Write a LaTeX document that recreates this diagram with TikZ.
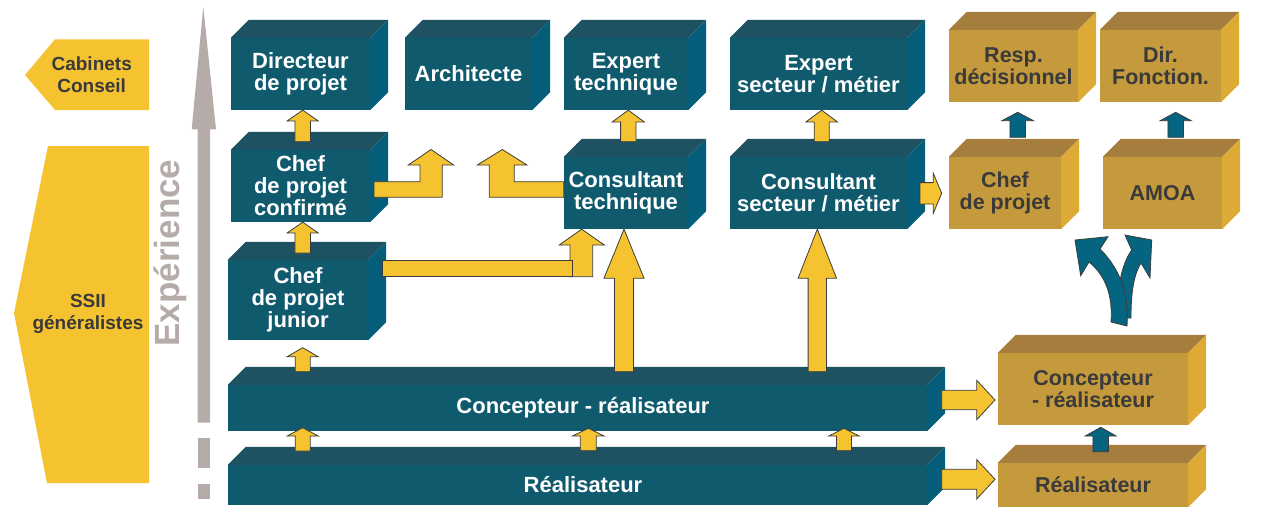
\documentclass[tikz,border=0pt]{standalone}
\usepackage{fontspec}
\setmainfont{Liberation Sans}
\usetikzlibrary{calc}
\definecolor{tealF}{HTML}{105A6E}
\definecolor{tealT}{HTML}{1E5262}
\definecolor{tealS}{HTML}{045E7A}
\definecolor{tealA}{HTML}{05647F}
\definecolor{goldF}{HTML}{C49A3C}
\definecolor{goldT}{HTML}{A57D3D}
\definecolor{goldS}{HTML}{DDAA35}
\definecolor{gtext}{HTML}{3A3A3A}
\definecolor{yel}{HTML}{F5C330}
\definecolor{outl}{HTML}{3C3C3C}
\definecolor{grayA}{HTML}{B5ABA8}
\tikzset{
  tbox/.style={fill=tealF, text=white, inner sep=0pt, align=center,
    font=\fontsize{22}{22}\selectfont\bfseries},
  gbox/.style={fill=goldF, text=gtext, inner sep=0pt, align=center,
    font=\fontsize{21.5}{22}\selectfont\bfseries},
  ltext/.style={text=gtext, inner sep=0pt, align=center,
    font=\fontsize{19}{22}\selectfont\bfseries},
  yarr/.style={fill=yel, draw=outl, line width=0.8pt},
  tarr/.style={fill=tealA, draw=outl, line width=0.8pt},
}
% 3D faces of a box: #1 node, #2 top colour, #3 side colour
\newcommand\faces[3]{%
  \fill[#2] (#1.north west) -- ++(18,-18) -- ([shift={(18,-18)}]#1.north east) -- (#1.north east) -- cycle;
  \fill[#3] (#1.north east) -- ++(18,-18) -- ([shift={(18,-18)}]#1.south east) -- (#1.south east) -- cycle;}
% up block arrow: #1 style, #2 tip, #3 bottom, #4 head length, #5 head half width, #6 shaft half width
\newcommand\uarr[6]{%
  \filldraw[#1] let \p1=#2, \p2=#3 in (\x1,\y1) -- (\x1+#5pt,\y1-#4pt) -- (\x1+#6pt,\y1-#4pt)
    -- (\x1+#6pt,\y2) -- (\x1-#6pt,\y2) -- (\x1-#6pt,\y1-#4pt) -- (\x1-#5pt,\y1-#4pt) -- cycle;}
% right block arrow: #1 style, #2 tip, #3 start, #4 head length, #5 head half, #6 shaft half
\newcommand\rarr[6]{%
  \filldraw[#1] let \p1=#2, \p2=#3 in (\x1,\y1) -- (\x1-#4pt,\y1-#5pt) -- (\x1-#4pt,\y1-#6pt)
    -- (\x2,\y1-#6pt) -- (\x2,\y1+#6pt) -- (\x1-#4pt,\y1+#6pt) -- (\x1-#4pt,\y1+#5pt) -- cycle;}
\begin{document}
\begin{tikzpicture}[x=1pt,y=-1pt]
\useasboundingbox (0,0) rectangle (1270,507);

% left labels
\fill[yel] (25,75) -- (55,39.3) -- (149,39.3) -- (149,110) -- (55,110) -- cycle;
\node[ltext] (cab) at (91.7,75) {Cabinets\\Conseil};
\fill[yel] (48,146) -- (149,146) -- (149,483) -- (47,483) -- (14,313) -- cycle;
\node[ltext] (ssii) at (88,314) {SSII\\généralistes};

% experience axis
\fill[grayA] (203.3,6.7) -- (216,129.3) -- (210,129.3) -- (210,422.7) -- (197.7,422.7) -- (197.7,129.3) -- (191.7,129.3) -- cycle;
\fill[grayA] (197.7,437.7) rectangle (210,468.3);
\fill[grayA] (197.7,484.3) rectangle (210,499.3);
\node[rotate=90, anchor=base, text=grayA, inner sep=0pt, font=\fontsize{35}{35}\selectfont\bfseries] (exp) at (179,253) {Expérience};

% teal boxes
\node[tbox, minimum width=139pt, minimum height=72pt] (dir) at (300.5,74) {Directeur\\de projet};
\faces{dir}{tealT}{tealS}
\node[tbox, minimum width=127pt, minimum height=72pt] (arch) at (468.5,74) {Architecte};
\faces{arch}{tealT}{tealS}
\node[tbox, minimum width=124pt, minimum height=72pt] (expt) at (626,74) {Expert\\technique};
\faces{expt}{tealT}{tealS}
\node[tbox, minimum width=177pt, minimum height=72pt] (exps) at (818.5,74) {Expert\\secteur / métier};
\faces{exps}{tealT}{tealS}
\node[tbox, minimum width=139pt, minimum height=72pt] (chefc) at (300.5,186) {Chef\\de projet\\confirmé};
\faces{chefc}{tealT}{tealS}
\node[tbox, minimum width=124pt, minimum height=72pt] (const) at (626,193) {Consultant\\technique};
\faces{const}{tealT}{tealS}
\node[tbox, minimum width=177pt, minimum height=72pt] (conss) at (818.5,193) {Consultant\\secteur / métier};
\faces{conss}{tealT}{tealS}
\node[tbox, minimum width=140pt, minimum height=80pt] (chefj) at (298,300) {Chef\\de projet\\junior};
\faces{chefj}{tealT}{tealS}
\node[tbox, minimum width=699pt, minimum height=46pt] (conc) at (577.5,408) {\hspace*{11pt}Concepteur - réalisateur};
\faces{conc}{tealT}{tealS}
\node[tbox, minimum width=699pt, minimum height=40pt] (real) at (577.5,485) {\hspace*{11pt}Réalisateur};
\faces{real}{tealT}{tealS}

% gold boxes
\node[gbox, minimum width=129pt, minimum height=72pt] (resp) at (1013.5,66) {Resp.\\décisionnel};
\faces{resp}{goldT}{goldS}
\node[gbox, minimum width=121pt, minimum height=72pt] (dirf) at (1160.5,66) {Dir.\\Fonction.};
\faces{dirf}{goldT}{goldS}
\node[gbox, minimum width=112pt, minimum height=72pt] (chefg) at (1005,193) {Chef\\de projet};
\faces{chefg}{goldT}{goldS}
\node[gbox, minimum width=119pt, minimum height=72pt] (amoa) at (1162.5,193) {AMOA};
\faces{amoa}{goldT}{goldS}
\node[gbox, minimum width=190pt, minimum height=72pt] (concg) at (1093,389) {Concepteur\\- réalisateur};
\faces{concg}{goldT}{goldS}
\node[gbox, minimum width=190pt, minimum height=44pt] (realg) at (1093,485) {Réalisateur};
\faces{realg}{goldT}{goldS}

% small yellow up arrows
\uarr{yarr}{(302.7,0 |- dir.south)}{(302.7,141.7)}{10.7}{15.5}{7.8}
\uarr{yarr}{(302.7,0 |- chefc.south)}{(302.7,253)}{10.7}{15.5}{7.8}
\uarr{yarr}{(302.7,347.7)}{(302.7,371.7)}{9}{15.5}{7.5}
\uarr{yarr}{(302.7,427.7)}{(302.7,451)}{8.3}{15.5}{7.5}
\uarr{yarr}{(588.3,428.3)}{(588.3,450.7)}{7.7}{15.8}{8}
\uarr{yarr}{(844,428.3)}{(844,450.7)}{7.7}{15.2}{7.5}
\uarr{yarr}{(628.3,0 |- expt.south)}{(628.3,141.7)}{11.7}{16}{7.7}
\uarr{yarr}{(821.7,0 |- exps.south)}{(821.7,141.7)}{11.7}{15.7}{7.5}
% large yellow up arrows
\uarr{yarr}{(624,0 |- const.south)}{(624,371.7)}{49}{20}{9.5}
\uarr{yarr}{(817.3,0 |- conss.south)}{(817.3,371.7)}{49}{19.2}{9.2}

% teal up arrows
\uarr{tarr}{(1017.7,112.3)}{(1017.7,137.3)}{8.4}{15.8}{7.8}
\uarr{tarr}{(1175.7,112.3)}{(1175.7,137.3)}{8.4}{15.5}{7.8}
\uarr{tarr}{(1100.7,427.3)}{(1100.7,451.7)}{8.7}{15.5}{7.8}

% right arrows
\rarr{yarr}{(995,400)}{(941.7,400)}{18.3}{19.7}{9.7}
\rarr{yarr}{(995,479.3)}{(941.7,479.3)}{18.3}{19.7}{10}
\rarr{yarr}{(941.7,193.3)}{(920,193.3)}{8.4}{20}{10.7}

% elbow arrows
\filldraw[yarr] (374,181.7) -- (420,181.7) -- (420,165) -- (408.3,165) -- (431,149.5) -- (453.7,165) -- (442.3,165) -- (442.3,197.3) -- (374,197.3) -- cycle;
\filldraw[yarr] (const.west |- 0,181.7) -- (514.3,181.7) -- (514.3,165) -- (527,165) -- (502.3,149.5) -- (477.3,165) -- (489.3,165) -- (489.3,197.3) -- (const.west |- 0,197.3) -- cycle;
\filldraw[yarr] (570,276.7) -- (570,245) -- (559.2,245) -- (581.7,0 |- const.south) -- (604.3,245) -- (592.7,245) -- (592.7,276.7) -- cycle;
\filldraw[yarr] (382.5,260.7) rectangle (572.7,276.7);

% fork arrow
\filldraw[tarr] (1117,318) .. controls (1117,290) and (1121,265) .. (1131.7,250) -- (1125,235) -- (1151.7,240) -- (1150,278) -- (1141,263) .. controls (1133,276) and (1131,295) .. (1131,318) -- cycle;
\filldraw[tarr] (1111,322) .. controls (1113,295) and (1105,275) .. (1089,262) -- (1080.7,275.7) -- (1075,240) -- (1108,236.7) -- (1100,249) .. controls (1121,270) and (1129,295) .. (1127,326) -- cycle;
\end{tikzpicture}
\end{document}
